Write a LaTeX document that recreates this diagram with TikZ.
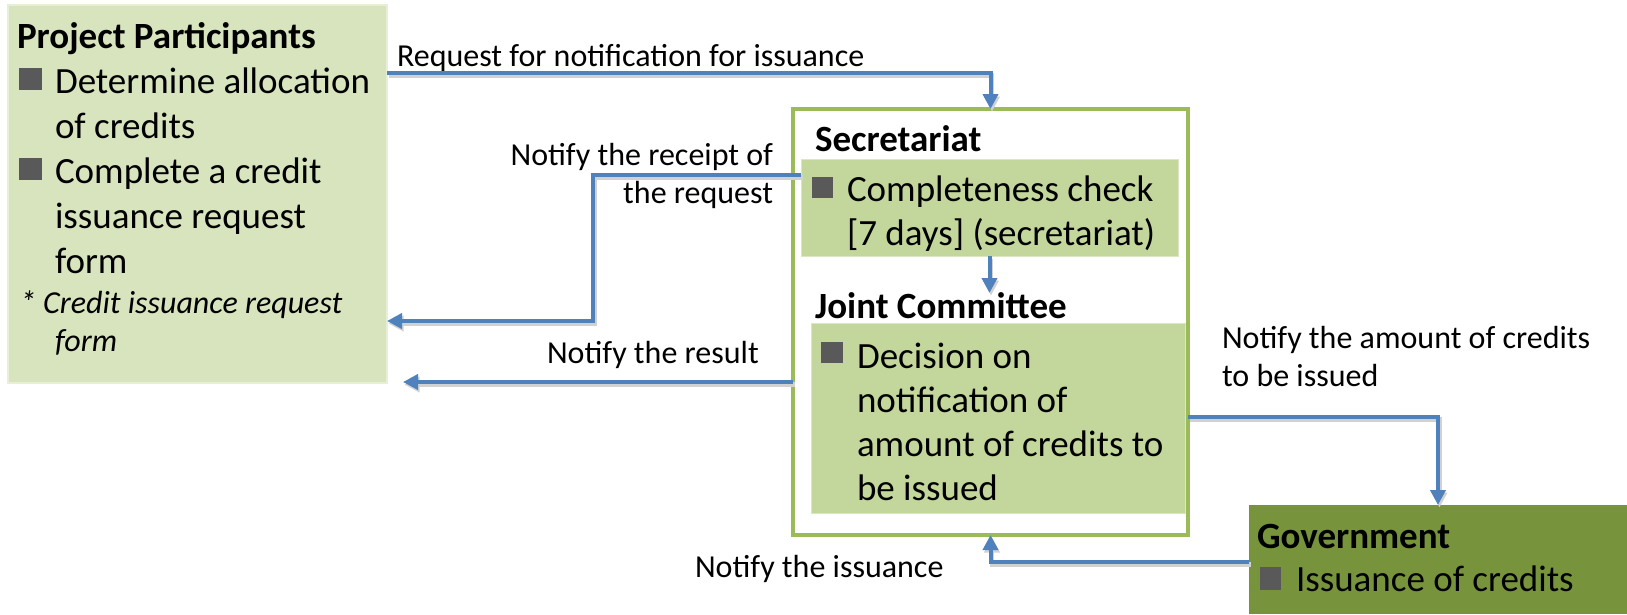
\documentclass[tikz,border=0pt]{standalone}
\usepackage{fontspec}
\setmainfont{Carlito}
\usetikzlibrary{arrows.meta,calc}
\definecolor{ppfill}{HTML}{D7E4BD}
\definecolor{itemfill}{HTML}{C3D69B}
\definecolor{govfill}{HTML}{77933C}
\definecolor{outerline}{HTML}{9BBB59}
\definecolor{arrowblue}{HTML}{4F81BD}
\definecolor{bulletgray}{HTML}{595959}
\begin{document}
\begin{tikzpicture}[x=1pt,y=-1pt,
  panel/.style={rectangle, inner sep=0pt, outer sep=0pt},
  txt/.style={inner sep=0pt, outer sep=0pt, align=left, font=\fontsize{37}{45}\selectfont},
  txtb/.style={inner sep=0pt, outer sep=0pt, align=left, font=\fontsize{37}{44}\selectfont},
  head/.style={inner sep=0pt, outer sep=0pt, font=\fontsize{37}{45}\selectfont\bfseries},
  elabel/.style={inner sep=0pt, outer sep=0pt, font=\fontsize{32}{38}\selectfont},
  flow/.style={draw=arrowblue, line width=4pt, -{Triangle[length=15pt,width=15pt]},
    preaction={draw=black!18, line width=4.5pt, transform canvas={shift={(1.5pt,-2.5pt)}}}},
  bul/.style={fill=bulletgray}]
\useasboundingbox (0,0) rectangle (1627,614);
% boxes
\node[panel, fill=ppfill, draw=ppfill!60!white, line width=1.5pt, minimum width=379pt, minimum height=378pt] (pp) at (197.5,194) {};
\node[panel, fill=white, draw=outerline, line width=4pt, minimum width=395pt, minimum height=426pt] (outer) at (990.5,322) {};
\node[panel, fill=itemfill, draw=itemfill!60!white, line width=1pt, minimum width=377pt, minimum height=97pt] (secitem) at (989.5,207.5) {};
\node[panel, fill=itemfill, draw=itemfill!60!white, line width=1pt, minimum width=374pt, minimum height=190pt] (jcitem) at (998,418) {};
\node[panel, fill=govfill, minimum width=378pt, minimum height=109pt] (gov) at (1438,559.5) {};
% Project participants text (multi-line nodes: base = last line)
\node[head, anchor=base west] (pptitle) at (17,48) {Project Participants};
\fill[bul] (19,68) rectangle (42,90);
\node[txt, anchor=base west] (pp1) at (55,138) {Determine allocation\\of credits};
\fill[bul] (19,158) rectangle (42,180);
\node[txt, anchor=base west] (pp2) at (55,273) {Complete a credit\\issuance request\\form};
\node[elabel, anchor=base west, align=left, font=\fontsize{32}{38}\selectfont\itshape] (ppnote) at (20,351) {* Credit issuance request\\\hspace*{35pt}form};
% Secretariat
\node[head, anchor=base west] (sectitle) at (815,151) {Secretariat};
\fill[bul] (812,177) rectangle (833,198);
\node[txtb, anchor=base west] (sectext) at (847,245) {Completeness check\\{[7 days]} (secretariat)};
% Joint committee
\node[head, anchor=base west] (jctitle) at (815,318) {Joint Committee};
\fill[bul] (821,342) rectangle (843,363);
\node[txtb, anchor=base west] (jctext) at (857,500) {Decision on\\notification of\\amount of credits to\\be issued};
% Government
\node[head, anchor=base west] (govtitle) at (1257,548) {Government};
\fill[bul] (1260,567) rectangle (1281,590);
\node[txt, anchor=base west] (govtext) at (1296,591) {Issuance of credits};
% edge labels
\node[elabel, anchor=base west] (lreq) at (397,66) {Request for notification for issuance};
\node[elabel, anchor=base east, align=right] (lrec) at (773,203) {Notify the receipt of\\the request};
\node[elabel, anchor=base west] (lres) at (547,363) {Notify the result};
\node[elabel, anchor=base west, align=left] (lamt) at (1222,386) {Notify the amount of credits\\to be issued};
\node[elabel, anchor=base west] (liss) at (695,577) {Notify the issuance};
% coordinates
\coordinate (reqS) at (0,73);
\coordinate (recA) at (593,175);
\coordinate (recB) at (593,321);
\coordinate (resY) at (0,382);
\coordinate (resEnd) at (403,382);
\coordinate (amtY) at (0,417);
\coordinate (issY) at (0,562);
\coordinate (jcIn) at (0,293);
% connectors
\draw[flow] (pp.east |- reqS) -| (outer.north);
\draw[flow] (secitem.west |- recA) -- (recA) -- (recB) -- (pp.east |- recB);
\draw[flow] (secitem.south) -- (secitem.south |- jcIn);
\draw[flow] (outer.west |- resY) -- (resEnd);
\draw[flow] (outer.east |- amtY) -| (gov.north);
\draw[flow] (gov.west |- issY) -| (outer.south);
\end{tikzpicture}
\end{document}
